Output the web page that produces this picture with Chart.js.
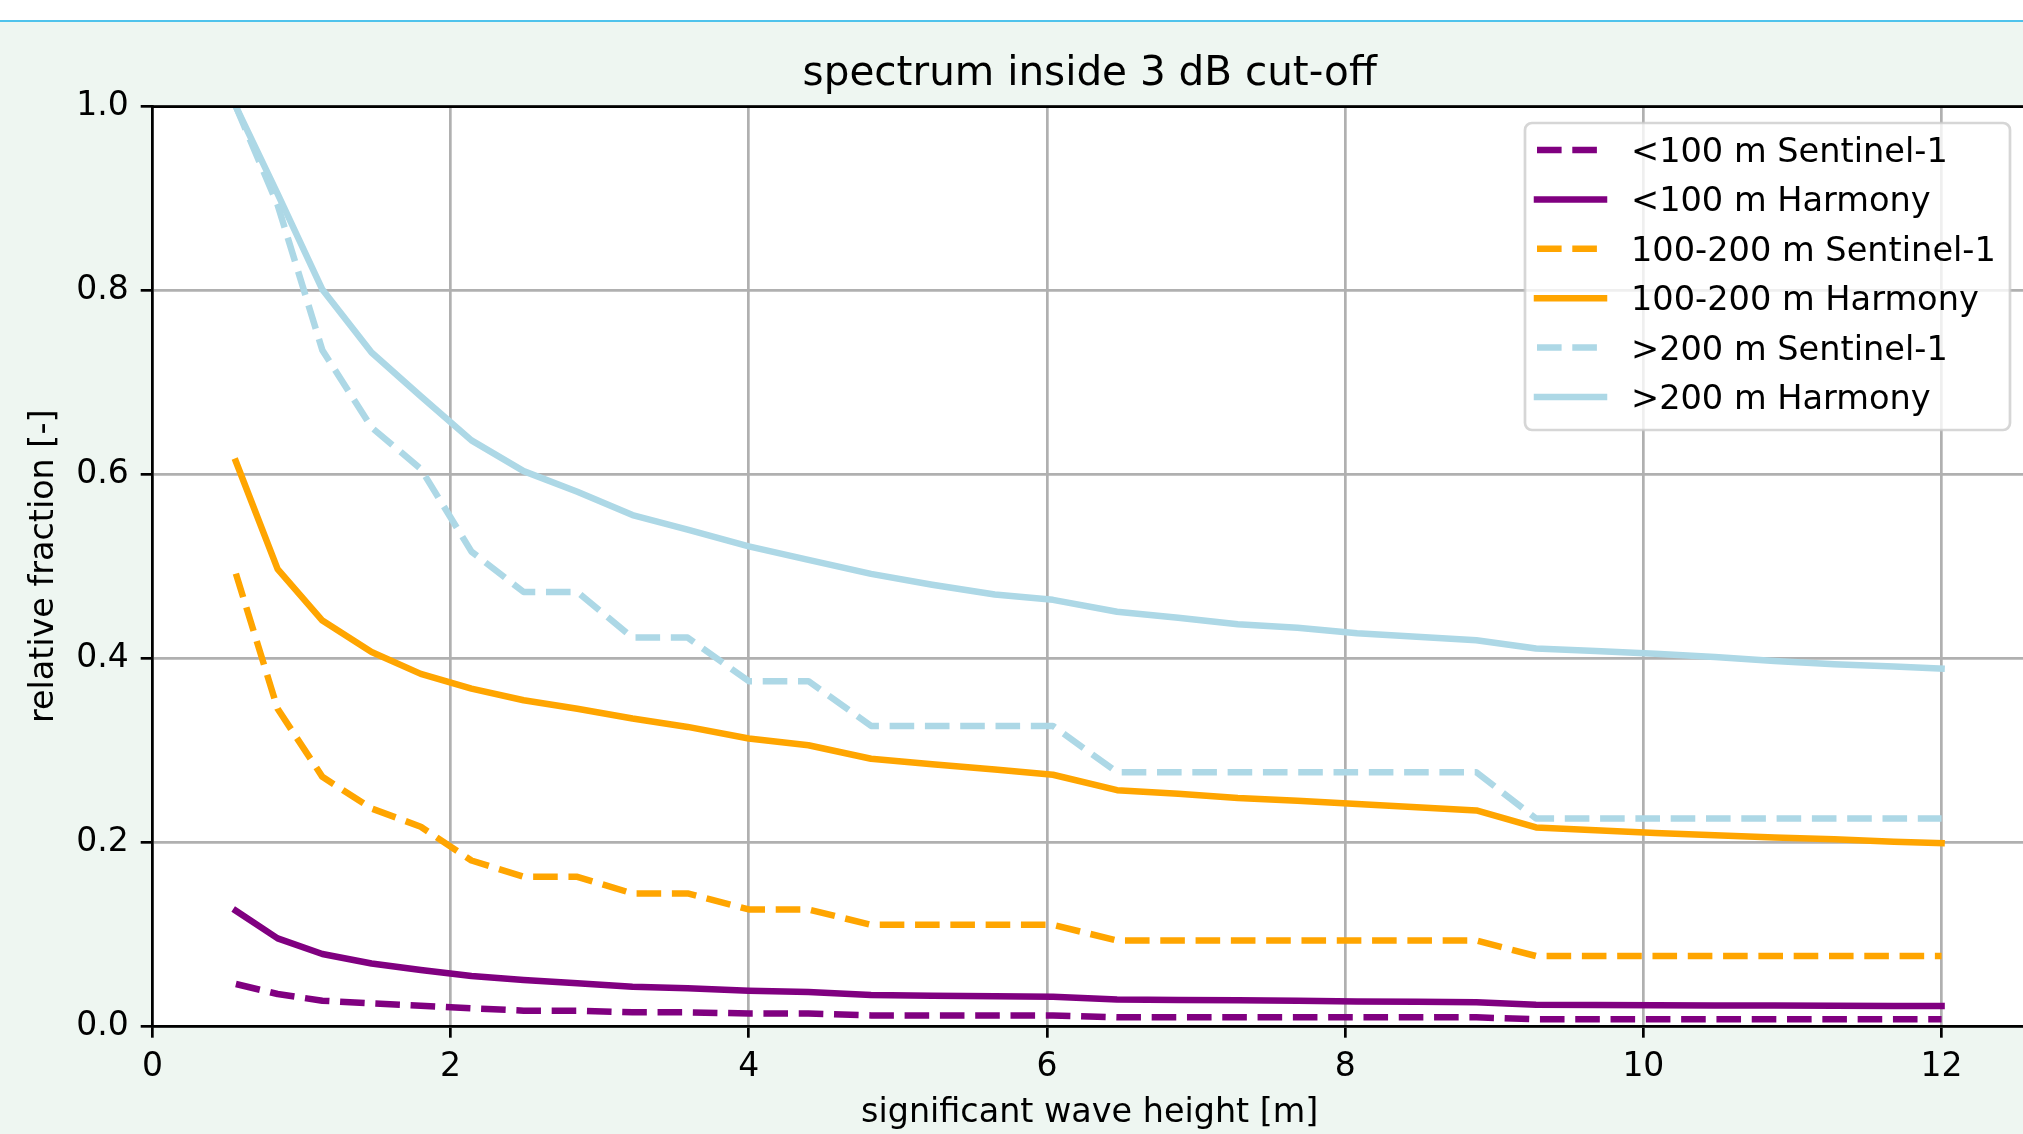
<!DOCTYPE html>
<html>
<head>
<meta charset="utf-8">
<script src="https://cdn.jsdelivr.net/npm/chart.js@4.4.0/dist/chart.umd.min.js"></script>
<style>
  html, body { margin: 0; padding: 0; width: 2023px; height: 1134px; overflow: hidden; background: #eef6f1; }
  #strip { position: absolute; left: 0; top: 0; width: 2023px; height: 20px; background: #fff; border-bottom: 2px solid #4fc3ec; }
  #wrap { position: absolute; left: 0; top: 0; width: 2179px; height: 1134px; }
</style>
</head>
<body>
<div id="strip"></div>
<div id="wrap"><canvas id="trendChart" width="2179" height="1134"></canvas></div>
<script>
// significant wave height bins [m]
var hs = [0.56, 0.84, 1.14, 1.47, 1.80, 2.14, 2.49, 2.85, 3.22, 3.59, 4.00, 4.40, 4.82, 5.23, 5.65, 6.04,
  6.47, 6.88, 7.28, 7.68, 8.08, 8.48, 8.88, 9.28, 9.68, 10.08, 10.48, 10.88, 11.28, 11.68, 12.00];

var labels = [
  "<100 m Sentinel-1",
  "<100 m Harmony",
  "100-200 m Sentinel-1",
  "100-200 m Harmony",
  ">200 m Sentinel-1",
  ">200 m Harmony"
];

var shortS1 = [0.0457, 0.0348, 0.0275, 0.0246, 0.0220, 0.0192, 0.0167, 0.0167, 0.0149, 0.0149, 0.0136, 0.0136,
  0.0115, 0.0115, 0.0115, 0.0115, 0.0094, 0.0094, 0.0094, 0.0094, 0.0094, 0.0094, 0.0094,
  0.0073, 0.0073, 0.0073, 0.0073, 0.0073, 0.0073, 0.0073, 0.0073];
var shortHarmony = [0.1253, 0.0953, 0.0783, 0.0680, 0.0610, 0.0543, 0.0500, 0.0464, 0.0428, 0.0410, 0.0384, 0.0370,
  0.0337, 0.0330, 0.0324, 0.0318, 0.0287, 0.0283, 0.0280, 0.0275, 0.0267, 0.0264, 0.0258,
  0.0232, 0.0229, 0.0226, 0.0224, 0.0222, 0.0220, 0.0218, 0.0217];
var midS1 = [0.492, 0.345, 0.271, 0.2366, 0.2167, 0.180, 0.1623, 0.1623, 0.1442, 0.1442, 0.1268, 0.1268,
  0.110, 0.110, 0.110, 0.110, 0.093, 0.093, 0.093, 0.093, 0.093, 0.093, 0.093,
  0.0761, 0.0761, 0.0761, 0.0761, 0.0761, 0.0761, 0.0761, 0.0761];
var midHarmony = [0.614, 0.497, 0.441, 0.4067, 0.383, 0.367, 0.3543, 0.345, 0.3344, 0.3253, 0.3127, 0.3054,
  0.2907, 0.2848, 0.279, 0.2733, 0.2565, 0.2525, 0.248, 0.245, 0.2415, 0.238, 0.2345,
  0.216, 0.213, 0.2098, 0.2075, 0.205, 0.203, 0.2005, 0.1988];
var longS1 = [1.0, 0.893, 0.735, 0.651, 0.606, 0.516, 0.472, 0.472, 0.4225, 0.4225, 0.375, 0.375,
  0.3264, 0.3264, 0.3264, 0.3264, 0.276, 0.276, 0.276, 0.276, 0.276, 0.276, 0.276,
  0.2257, 0.2257, 0.2257, 0.2257, 0.2257, 0.2257, 0.2257, 0.2257];
var longHarmony = [1.0, 0.905, 0.801, 0.7325, 0.685, 0.637, 0.6035, 0.581, 0.5557, 0.540, 0.5217, 0.507,
  0.4918, 0.480, 0.4693, 0.4635, 0.4506, 0.444, 0.437, 0.4331, 0.4273, 0.4235, 0.4196,
  0.4105, 0.408, 0.405, 0.4014, 0.397, 0.3935, 0.391, 0.3887];

var xTicks = [0, 2, 4, 6, 8, 10, 12];
var yTicks = [0.0, 0.2, 0.4, 0.6, 0.8, 1.0];

var series = [shortS1, shortHarmony, midS1, midHarmony, longS1, longHarmony];
var colors = ["#800080", "#800080", "#ffa500", "#ffa500", "#add8e6", "#add8e6"];
var dashed = [true, false, true, false, true, false];

function pairs(ys) {
  return hs.map(function(x, i) { return { x: x, y: ys[i] }; });
}

var datasets = series.map(function(ys, i) {
  return {
    label: labels[i],
    data: pairs(ys),
    borderColor: colors[i],
    backgroundColor: colors[i],
    borderWidth: 6.5,
    borderDash: dashed[i] ? [24.6, 10.7] : [],
    borderCapStyle: dashed[i] ? "butt" : "square",
    borderJoinStyle: "round",
    pointRadius: 0,
    tension: 0,
    fill: false,
    order: 6 - i
  };
});

var plotBg = {
  id: "plotBg",
  beforeDraw: function(chart) {
    var a = chart.chartArea, ctx = chart.ctx;
    ctx.save();
    ctx.fillStyle = "#ffffff";
    ctx.fillRect(a.left, a.top, chart.width - a.left, a.bottom - a.top);
    ctx.restore();
  },
  afterDatasetsDraw: function(chart) {
    var a = chart.chartArea, ctx = chart.ctx;
    ctx.save();
    ctx.strokeStyle = "#000";
    ctx.lineWidth = 2.7;
    ctx.beginPath();
    ctx.moveTo(a.left, a.top);
    ctx.lineTo(chart.width, a.top);
    ctx.moveTo(a.right, a.bottom);
    ctx.lineTo(chart.width, a.bottom);
    ctx.stroke();
    ctx.restore();
  }
};

// legend box in the upper right, like matplotlib
var boxLegend = {
  id: "boxLegend",
  afterDraw: function(chart) {
    var ctx = chart.ctx;
    var bx = 1525, by = 123, bw = 485, bh = 307, r = 7;
    ctx.save();
    ctx.beginPath();
    ctx.moveTo(bx + r, by);
    ctx.arcTo(bx + bw, by, bx + bw, by + bh, r);
    ctx.arcTo(bx + bw, by + bh, bx, by + bh, r);
    ctx.arcTo(bx, by + bh, bx, by, r);
    ctx.arcTo(bx, by, bx + bw, by, r);
    ctx.closePath();
    ctx.fillStyle = "rgba(255,255,255,0.8)";
    ctx.fill();
    ctx.strokeStyle = "rgba(204,204,204,0.8)";
    ctx.lineWidth = 2.7;
    ctx.stroke();

    ctx.font = "33.6px 'DejaVu Sans'";
    ctx.textBaseline = "alphabetic";
    ctx.textAlign = "left";
    chart.data.datasets.forEach(function(ds, i) {
      var y = 150 + i * 49.4;
      ctx.beginPath();
      ctx.strokeStyle = ds.borderColor;
      ctx.lineWidth = ds.borderWidth;
      ctx.setLineDash(ds.borderDash);
      ctx.lineCap = ds.borderCapStyle;
      ctx.moveTo(1537, y);
      ctx.lineTo(1604, y);
      ctx.stroke();
      ctx.setLineDash([]);
      ctx.fillStyle = "#000";
      ctx.fillText(ds.label, 1631, y + 12);
    });
    ctx.restore();
  }
};

Chart.defaults.font.family = "'DejaVu Sans'";
Chart.defaults.color = "#000";

var chart = new Chart(document.getElementById("trendChart").getContext("2d"), {
  type: "line",
  data: { datasets: datasets },
  options: {
    responsive: false,
    animation: false,
    layout: { padding: { left: 0, top: 0, bottom: 0, right: 152 } },
    plugins: {
      legend: { display: false },
      tooltip: { enabled: false },
      title: {
        display: true,
        fullSize: false,
        text: "spectrum inside 3 dB cut-off",
        font: { size: 40.5, weight: "normal" },
        color: "#000",
        padding: { top: 50, bottom: 8 }
      }
    },
    scales: {
      x: {
        type: "linear",
        position: "bottom",
        min: 0,
        max: 12.573,
        afterBuildTicks: function(s) {
          s.ticks = xTicks.map(function(v) { return { value: v }; });
        },
        afterFit: function(s) { s.height = 108; },
        ticks: {
          font: { size: 33 },
          color: "#000",
          padding: 10,
          maxRotation: 0,
          autoSkip: false,
          callback: function(v) { return String(v); }
        },
        grid: { color: "#b0b0b0", lineWidth: 2.7, tickColor: "#000", tickLength: 11.7, tickWidth: 2.7 },
        border: { color: "#000", width: 2.7 },
        title: {
          display: true,
          text: "significant wave height [m]",
          font: { size: 33.4 },
          color: "#000",
          padding: { top: 0, bottom: 1 }
        }
      },
      y: {
        min: 0,
        max: 1,
        afterBuildTicks: function(s) {
          s.ticks = yTicks.map(function(v) { return { value: v }; });
        },
        afterFit: function(s) { s.width = 152.4; },
        ticks: {
          font: { size: 33 },
          color: "#000",
          padding: 12,
          autoSkip: false,
          callback: function(v) { return v.toFixed(1); }
        },
        grid: { color: "#b0b0b0", lineWidth: 2.7, tickColor: "#000", tickLength: 11.7, tickWidth: 2.7 },
        border: { color: "#000", width: 2.7 },
        title: {
          display: true,
          text: "relative fraction [-]",
          font: { size: 33.4 },
          color: "#000",
          padding: { top: 24, bottom: 0 }
        }
      }
    }
  },
  plugins: [plotBg, boxLegend]
});
</script>
</body>
</html>
